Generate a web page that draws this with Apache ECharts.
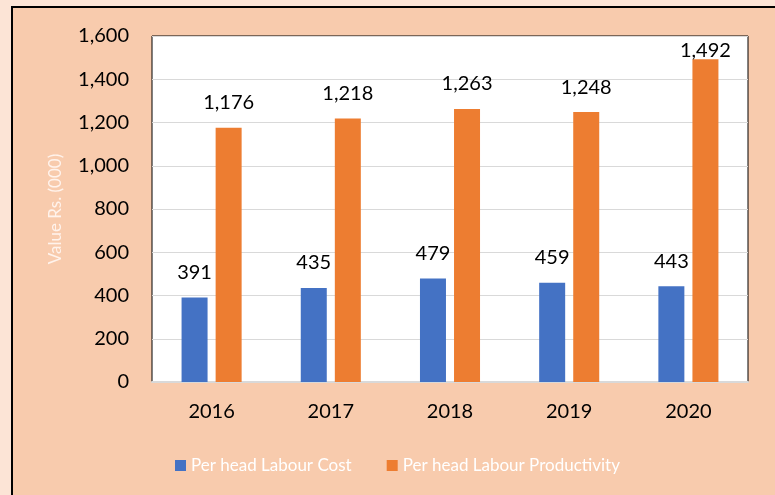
<!DOCTYPE html>
<html>
<head>
<meta charset="utf-8">
<script src="https://cdn.jsdelivr.net/npm/echarts@6/dist/echarts.min.js"></script>
<style>
html,body{margin:0;padding:0;background:#FCE4D6;}
#c{width:775px;height:495px;}
</style>
</head>
<body>
<div id="c"></div>
<script>
var years = ['2016', '2017', '2018', '2019', '2020'];
var labourCost = [391, 435, 479, 459, 443];
var labourProductivity = [1176, 1218, 1263, 1248, 1492];
var yTicks = [0, 200, 400, 600, 800, 1000, 1200, 1400, 1600];
var seriesNames = ['Per head Labour Cost', 'Per head Labour Productivity'];
var yAxisName = 'Value Rs. (000)';

var FONT = 'Lato, "Open Sans", sans-serif';
function fmt(v){ return Number(v).toLocaleString('en-US'); }

var chart = echarts.init(document.getElementById('c'), null, {renderer:'canvas'});
var prodData = labourProductivity.map(function(v){
  var item = {value: v};
  if (v > 1450) item.label = {distance: -1};
  return item;
});

chart.setOption({
  backgroundColor: '#FCE4D6',
  animation: false,
  textStyle: {fontFamily: FONT},
  graphic: [{
    type: 'rect', z: -10, silent: true,
    shape: {x: 12, y: 7, width: 900, height: 700},
    style: {fill: '#F8CBAD', stroke: '#000', lineWidth: 2}
  }],
  grid: {
    left: 152, top: 36, right: 27, bottom: 113,
    show: true, backgroundColor: '#fff', borderColor: '#000', borderWidth: 1
  },
  legend: {
    left: 170, top: 452,
    itemWidth: 11, itemHeight: 11, itemGap: 35, icon: 'rect',
    textStyle: {color: '#fff', fontSize: 17, fontFamily: FONT},
    data: seriesNames
  },
  xAxis: {
    type: 'category', data: years,
    axisLine: {lineStyle: {color: '#D9D9D9', width: 2}},
    axisTick: {show: false},
    axisLabel: {color: '#000', fontSize: 20, margin: 20, fontFamily: FONT}
  },
  yAxis: {
    type: 'value', min: yTicks[0], max: yTicks[yTicks.length-1], interval: yTicks[1]-yTicks[0],
    name: yAxisName, nameLocation: 'middle', nameRotate: 90, nameGap: 88,
    nameTextStyle: {color: '#FFF3EC', fontSize: 17, fontFamily: FONT},
    axisLine: {show: false}, axisTick: {show: false},
    axisLabel: {color: '#000', fontSize: 20, margin: 23, fontFamily: FONT, formatter: fmt},
    splitLine: {lineStyle: {color: '#D9D9D9', width: 1}}
  },
  series: [{
    name: seriesNames[0], type: 'bar', data: labourCost,
    barWidth: 26, barGap: '31%',
    itemStyle: {color: '#4472C4'},
    label: {show: true, position: 'top', distance: 15, color: '#000', fontSize: 20, fontFamily: FONT, formatter: function(p){return fmt(p.value);}}
  }, {
    name: seriesNames[1], type: 'bar', data: prodData,
    barWidth: 26,
    itemStyle: {color: '#ED7D31'},
    label: {show: true, position: 'top', distance: 15, color: '#000', fontSize: 20, fontFamily: FONT, formatter: function(p){return fmt(p.value);}}
  }]
});
</script>
</body>
</html>
